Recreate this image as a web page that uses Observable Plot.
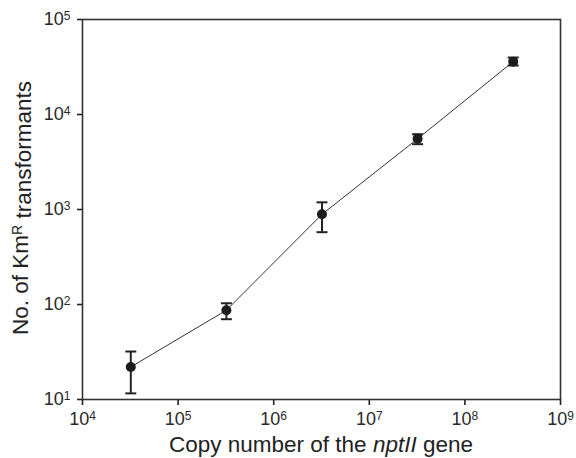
<!DOCTYPE html>
<html>
<head>
<meta charset="utf-8">
<script src="https://cdn.jsdelivr.net/npm/d3@7"></script>
<script src="https://cdn.jsdelivr.net/npm/@observablehq/plot@0.6"></script>
<style>
  html, body { margin: 0; padding: 0; background: #fff; }
  svg { display: block; }
</style>
</head>
<body>
<div id="chart"></div>
<script>
const copyNumber = [3.2e4, 3.2e5, 3.2e6, 3.2e7, 3.2e8];
const transformants = [22, 87, 890, 5550, 36000];
const errLow = [11.6, 70, 577, 4870, 32800];
const errHigh = [32, 103, 1190, 6200, 39800];
const xTicks = [1e4, 1e5, 1e6, 1e7, 1e8, 1e9];
const yTicks = [1e1, 1e2, 1e3, 1e4, 1e5];
const xTitle = ["Copy number of the ", "nptII", " gene"];
const yTitle = ["No. of Km", "R", " transformants"];

const data = copyNumber.map((x, i) => ({x, y: transformants[i], lo: errLow[i], hi: errHigh[i]}));

const capSymbol = {
  draw(ctx, size) {
    const r = Math.sqrt(size / Math.PI);
    ctx.moveTo(-r, 0);
    ctx.lineTo(r, 0);
  }
};

const FONT = "'Liberation Sans', Arial, Helvetica, sans-serif";
const INK = "#222";

const chart = Plot.plot({
  width: 576,
  height: 458,
  marginLeft: 82,
  marginRight: 16,
  marginTop: 19,
  marginBottom: 59,
  style: {fontFamily: FONT, color: INK, background: "#fff"},
  x: {type: "log", domain: [1e4, 1e9]},
  y: {type: "log", domain: [1e1, 1e5]},
  marks: [
    Plot.axisX({ticks: xTicks, tickSize: 6, tickPadding: 7, fontSize: 18, label: null,
      tickFormat: d => String(Math.round(Math.log10(d))), stroke: INK, strokeWidth: 1.6}),
    Plot.axisY({ticks: yTicks, tickSize: 5, tickPadding: 7, fontSize: 18, label: null,
      tickFormat: d => String(Math.round(Math.log10(d))), stroke: INK, strokeWidth: 1.6}),
    Plot.frame({stroke: "#333", strokeWidth: 1.6}),
    Plot.line(data, {x: "x", y: "y", stroke: "#333", strokeWidth: 1}),
    Plot.ruleX(data, {x: "x", y1: "lo", y2: "hi", stroke: INK, strokeWidth: 2}),
    Plot.dot(data, {x: "x", y: "lo", symbol: capSymbol, r: 5.5, stroke: INK, strokeWidth: 2, fill: "none"}),
    Plot.dot(data, {x: "x", y: "hi", symbol: capSymbol, r: 5.5, stroke: INK, strokeWidth: 2, fill: "none"}),
    Plot.dot(data, {x: "x", y: "y", r: 5, fill: "#1c1c1c", stroke: "none"})
  ]
});

document.getElementById("chart").appendChild(chart);

const svg = d3.select(chart);
// superscript tick labels: 10^n
svg.selectAll("[aria-label='x-axis tick label'] text, [aria-label='y-axis tick label'] text").each(function() {
  const t = d3.select(this);
  const exp = t.text();
  t.text("");
  t.style("font-size", "18px").style("fill", "#2a2a2a");
  t.append("tspan").style("font-size", "18px").text("10");
  t.append("tspan").attr("dy", "-5").style("font-size", "12px").text(exp);
});

// axis titles
const xt = svg.append("text")
  .attr("x", 321).attr("y", 452)
  .attr("text-anchor", "middle")
  .style("font-size", "22.5px").style("font-family", FONT).style("fill", INK);
xt.append("tspan").text(xTitle[0]);
xt.append("tspan").style("font-style", "italic").text(xTitle[1]);
xt.append("tspan").text(xTitle[2]);

const yt = svg.append("text")
  .attr("transform", "translate(28,208) rotate(-90)")
  .attr("text-anchor", "middle")
  .style("font-size", "22.5px").style("font-family", FONT).style("fill", INK);
yt.append("tspan").text(yTitle[0]);
yt.append("tspan").attr("dy", "-0.4em").style("font-size", "14px").text(yTitle[1]);
yt.append("tspan").attr("dy", "0.4em").text(yTitle[2]);
</script>
</body>
</html>
